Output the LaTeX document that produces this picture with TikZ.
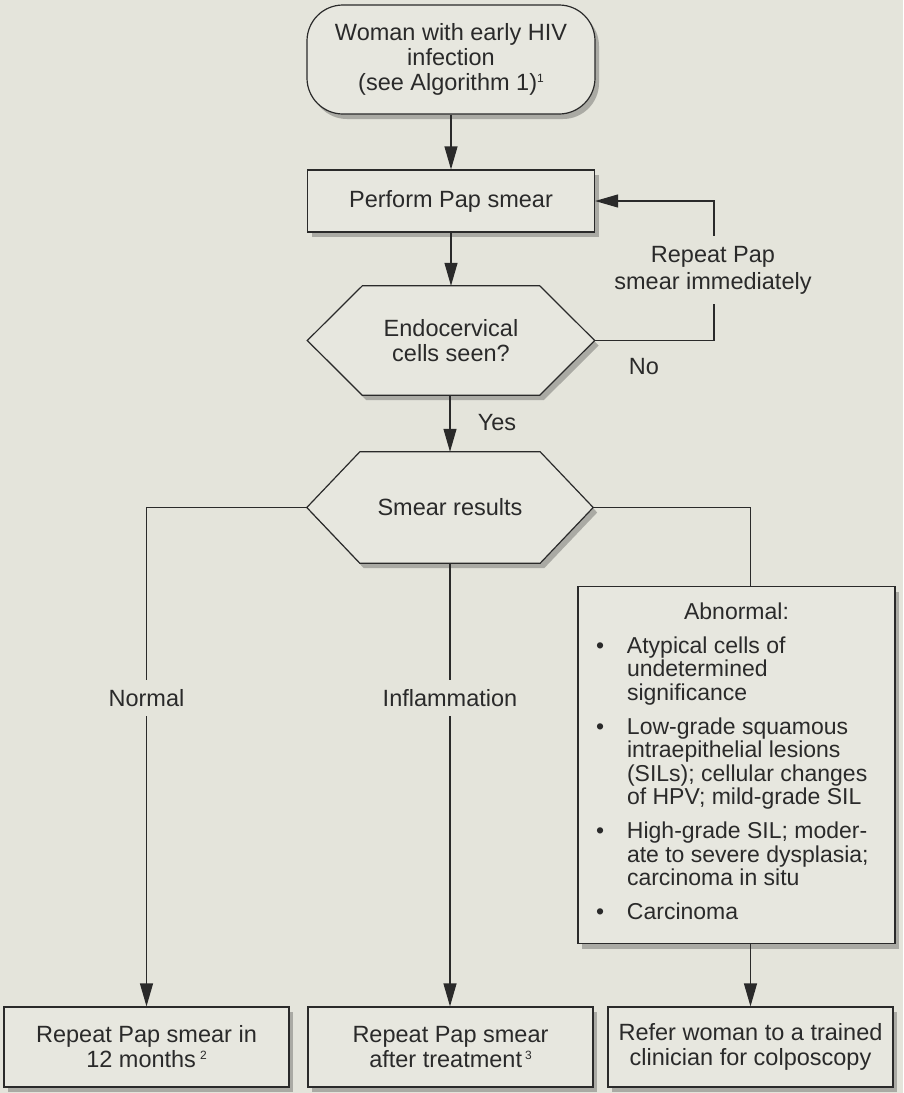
\documentclass[tikz,border=0pt]{standalone}
\usepackage{fontspec}
\setmainfont{Liberation Sans}
\usetikzlibrary{arrows.meta,shadows,backgrounds}
\definecolor{pagebg}{RGB}{228,228,219}
\definecolor{boxbg}{RGB}{231,231,223}
\definecolor{ink}{RGB}{42,42,42}
% small raised footnote marks
\newcommand\supnum[1]{\raisebox{8pt}{\fontsize{12}{12}\selectfont #1}}
% bullet and hanging indent for the list of abnormal findings
\newcommand\bul{\makebox[31pt][l]{\textbullet}}
\newcommand\ind{\hspace*{31pt}}
\begin{document}
\begin{tikzpicture}[x=1pt,y=-1pt,
  font=\fontsize{23.5}{25}\selectfont, text=ink,
  boxshadow/.style={drop shadow={shadow xshift=4pt,shadow yshift=-5pt,opacity=0.25,fill=black}},
  procbox/.style={draw=ink, line width=1.2pt, fill=boxbg, boxshadow, align=center, inner sep=0pt},
  termbox/.style={procbox, rounded corners=36pt},
  decision/.style={align=center, inner sep=0pt},
  hexline/.style={draw=ink, line width=1.2pt, fill=boxbg, boxshadow, line join=miter},
  flow/.style={draw=ink, line width=1.2pt, -{Triangle[length=23pt,width=13pt]}},
  wire/.style={draw=ink, line width=1.2pt},
  lbl/.style={fill=pagebg, inner xsep=3pt, inner ysep=9pt, align=center},
  plainlbl/.style={inner sep=0pt, align=center},
]
\useasboundingbox (0,0) rectangle (903,1093);
\begin{scope}[on background layer]
  \fill[pagebg] (0,0) rectangle (903,1093);
\end{scope}

% ---- nodes ----
\node[termbox, minimum width=288pt, minimum height=109pt] (start) at (451,59.5)
  {Woman with early HIV\\infection\\(see Algorithm 1)\supnum{1}};
\node[procbox, minimum width=287pt, minimum height=62pt] (pap) at (451,201)
  {Perform Pap smear};
\node[decision, minimum width=287pt, minimum height=109pt] (endo) at (451,340.5)
  {Endocervical\\cells seen?};
\node[decision, minimum width=286pt, minimum height=111pt] (smear) at (450,507.5)
  {Smear results};

\node[procbox, anchor=north, inner xsep=18pt, inner ysep=0pt] (abn) at (736.5,586)
  {\parbox[t][357pt][t]{281pt}{\fontsize{23}{23.5}\selectfont\vspace*{16pt}%
   \centering Abnormal:\par
   \raggedright\vspace{10.5pt}%
   \bul Atypical cells of\\ \ind undetermined\\ \ind significance\par\vspace{10.5pt}%
   \bul Low-grade squamous\\ \ind intraepithelial lesions\\ \ind (SILs); cellular changes\\ \ind of HPV; mild-grade SIL\par\vspace{10.5pt}%
   \bul High-grade SIL; moder-\\ \ind ate to severe dysplasia;\\ \ind carcinoma in situ\par\vspace{10.5pt}%
   \bul Carcinoma\par}};

\node[procbox, minimum width=285pt, minimum height=80pt] (normbox) at (146.5,1047)
  {Repeat Pap smear in\\12 months\hspace{4pt}\supnum{2}};
\node[procbox, minimum width=285pt, minimum height=80pt] (inflbox) at (450.5,1047)
  {Repeat Pap smear\\after treatment\hspace{3pt}\supnum{3}};
\node[procbox, minimum width=285pt, minimum height=80pt] (refer) at (750.5,1047)
  {Refer woman to a trained\\clinician for colposcopy};

% ---- decision outlines ----
\begin{scope}[on background layer]
  \path[hexline] (endo.west) -- ([xshift=55pt]endo.north west) -- ([xshift=-55pt]endo.north east)
    -- (endo.east) -- ([xshift=-55pt]endo.south east) -- ([xshift=55pt]endo.south west) -- cycle;
  \path[hexline] (smear.west) -- ([xshift=53pt]smear.north west) -- ([xshift=-53pt]smear.north east)
    -- (smear.east) -- ([xshift=-53pt]smear.south east) -- ([xshift=53pt]smear.south west) -- cycle;
\end{scope}

% ---- connectors ----
\draw[flow] (start.south) -- (pap.north);
\draw[flow] (pap.south) -- (endo.north);
\draw[flow] (endo.south -| smear.north) -- (smear.north);

\coordinate (loop) at (714,270);
\draw[flow] (endo.east) -| (loop) |- (pap.east);
\node[lbl, inner ysep=10pt, font=\fontsize{23.5}{27}\selectfont] (repeatlbl) at (713,270)
  {Repeat Pap\\smear immediately};
\node[plainlbl] (nolbl) at (644,367) {No};
\node[plainlbl] (yeslbl) at (497,423) {Yes};

\draw[flow] (smear.west) -| (normbox.north);
\draw[flow] (smear.south) -- (smear.south |- inflbox.north);
\draw[wire] (smear.east) -| (abn.north -| refer.north);
\draw[flow] (abn.south -| refer.north) -- (refer.north);

\node[lbl] (normlbl) at (146.5,698) {Normal};
\node[lbl] (infllbl) at (450,698) {Inflammation};
\end{tikzpicture}
\end{document}
